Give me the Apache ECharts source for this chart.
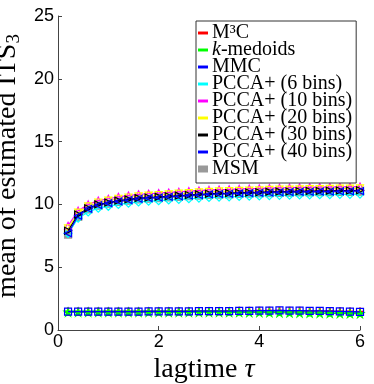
<!DOCTYPE html>
<html>
<head>
<meta charset="utf-8">
<script src="https://cdn.jsdelivr.net/npm/echarts@6/dist/echarts.min.js"></script>
<style>
  html, body { margin: 0; padding: 0; background: #fff; }
  #chart { width: 374px; height: 384px; }
</style>
</head>
<body>
<div id="chart"></div>
<script>
// lagtime values (0.2 .. 6.0)
var lagtimes = [0.2, 0.4, 0.6, 0.8, 1.0, 1.2, 1.4, 1.6, 1.8, 2.0,
  2.2, 2.4, 2.6, 2.8, 3.0, 3.2, 3.4, 3.6, 3.8, 4.0,
  4.2, 4.4, 4.6, 4.8, 5.0, 5.2, 5.4, 5.6, 5.8, 6.0];

// lower group
var m3c = [1.46, 1.46, 1.46, 1.46, 1.47, 1.47, 1.47, 1.47, 1.48, 1.48,
  1.48, 1.49, 1.49, 1.50, 1.50, 1.51, 1.51, 1.52, 1.52, 1.53,
  1.53, 1.53, 1.52, 1.52, 1.51, 1.50, 1.49, 1.48, 1.47, 1.46];
var kmedoids = [1.42, 1.42, 1.42, 1.42, 1.42, 1.42, 1.42, 1.42, 1.42, 1.42,
  1.42, 1.42, 1.42, 1.42, 1.42, 1.42, 1.41, 1.41, 1.40, 1.40,
  1.39, 1.38, 1.37, 1.36, 1.35, 1.34, 1.33, 1.32, 1.31, 1.30];
var mmc = [1.46, 1.46, 1.46, 1.46, 1.47, 1.47, 1.47, 1.47, 1.48, 1.48,
  1.48, 1.49, 1.49, 1.50, 1.50, 1.51, 1.51, 1.52, 1.53, 1.54,
  1.55, 1.56, 1.55, 1.54, 1.53, 1.52, 1.51, 1.49, 1.47, 1.45];

// upper group
var pcca6 = [7.7, 8.9, 9.4, 9.7, 9.85, 10.0, 10.1, 10.2, 10.25, 10.3,
  10.35, 10.4, 10.45, 10.5, 10.55, 10.58, 10.6, 10.63, 10.65, 10.67,
  10.7, 10.72, 10.73, 10.75, 10.76, 10.77, 10.78, 10.8, 10.8, 10.82];
var pcca10 = [8.3, 9.5, 10.0, 10.3, 10.45, 10.6, 10.7, 10.8, 10.85, 10.9,
  10.95, 11.0, 11.05, 11.1, 11.15, 11.18, 11.2, 11.23, 11.25, 11.27,
  11.3, 11.32, 11.33, 11.35, 11.36, 11.37, 11.38, 11.4, 11.4, 11.42];
var pcca20 = [8.1, 9.35, 9.85, 10.15, 10.3, 10.45, 10.55, 10.65, 10.7, 10.75,
  10.8, 10.85, 10.9, 10.95, 11.0, 11.03, 11.05, 11.08, 11.1, 11.12,
  11.15, 11.17, 11.18, 11.2, 11.21, 11.22, 11.23, 11.25, 11.25, 11.27];
var pcca30 = [7.9, 9.2, 9.7, 10.0, 10.15, 10.3, 10.4, 10.5, 10.55, 10.6,
  10.65, 10.7, 10.75, 10.8, 10.85, 10.88, 10.9, 10.93, 10.95, 10.97,
  11.0, 11.02, 11.03, 11.05, 11.06, 11.07, 11.08, 11.1, 11.1, 11.12];
var pcca40 = [7.7, 9.1, 9.65, 9.95, 10.1, 10.25, 10.35, 10.45, 10.5, 10.55,
  10.6, 10.65, 10.7, 10.75, 10.8, 10.83, 10.85, 10.88, 10.9, 10.92,
  10.95, 10.97, 10.98, 11.0, 11.01, 11.02, 11.03, 11.05, 11.05, 11.07];
var msm = [7.6, 9.0, 9.6, 9.9, 10.05, 10.2, 10.3, 10.4, 10.45, 10.5,
  10.55, 10.6, 10.65, 10.7, 10.75, 10.78, 10.8, 10.83, 10.85, 10.87,
  10.9, 10.92, 10.93, 10.95, 10.96, 10.97, 10.98, 11.0, 11.0, 11.02];

var names = ['M³C', 'k-medoids', 'MMC', 'PCCA+ (6 bins)', 'PCCA+ (10 bins)',
  'PCCA+ (20 bins)', 'PCCA+ (30 bins)', 'PCCA+ (40 bins)', 'MSM'];

// marker shapes
var P_AST = 'path://M4.4,0L5.6,0L5.6,4.4L10,4.4L10,5.6L5.6,5.6L5.6,10L4.4,10L4.4,5.6L0,5.6L0,4.4L4.4,4.4Z';
var P_STAR = 'path://M5,0L6.2,3.6L10,3.6L7,5.9L8.1,9.5L5,7.3L1.9,9.5L3,5.9L0,3.6L3.8,3.6Z';
var P_TDOWN = 'path://M0,0L10,0L5,9Z';
var P_TRIGHT = 'path://M0,0L9,5L0,10Z';
var P_TLEFT = 'path://M9,0L0,5L9,10Z';
var P_TUP = 'path://M5,0L10,9L0,9Z';
var P_DIAM = 'path://M5,0L10,5L5,10L0,5Z';
var P_SQ = 'path://M0,0L10,0L10,10L0,10Z';
var P_VBAR = 'path://M4.6,0L5.4,0L5.4,10L4.6,10Z';
// legend icons
var L_DASH = 'path://M0,4.4L10,4.4L10,5.6L0,5.6Z';
var L_HATCH = 'path://M0,2L0.8,2L0.8,8L0,8ZM3,2L3.8,2L3.8,8L3,8ZM6,2L6.8,2L6.8,8L6,8ZM9,2L9.8,2L9.8,8L9,8Z';

function mk(name, data, color, symbol, size, filled, z) {
  return {
    name: name,
    type: 'line',
    z: z,
    data: lagtimes.map(function (t, i) { return [t, data[i]]; }),
    symbol: symbol,
    symbolSize: size,
    showSymbol: true,
    lineStyle: { color: color, width: 1.2 },
    itemStyle: {
      color: filled ? color : 'rgba(0,0,0,0)',
      borderColor: color,
      borderWidth: 1.2
    },
    animation: false
  };
}

var chart = echarts.init(document.getElementById('chart'));
var serif = 'Liberation Serif';
var sans = 'Liberation Sans';

var option = {
  backgroundColor: '#fff',
  animation: false,
  grid: { left: 58, right: 14, top: 16, bottom: 54, outerBoundsMode: 'none' },
  legend: {
    orient: 'vertical',
    left: 196,
    top: 21,
    itemWidth: 8,
    itemHeight: 8,
    itemGap: -3,
    padding: [2, 4, 4, 2],
    borderColor: '#333',
    borderWidth: 1,
    backgroundColor: '#fff',
    data: names.map(function (n) {
      return { name: n, icon: n === 'MSM' ? L_HATCH : L_DASH };
    }),
    formatter: function (n) {
      if (n === 'k-medoids') return '{i|k}{n|-medoids}';
      return '{n|' + n + '}';
    },
    textStyle: {
      fontFamily: serif,
      fontSize: 20,
      color: '#000',
      lineHeight: 17,
      rich: {
        n: { fontFamily: serif, fontSize: 20, color: '#000', lineHeight: 17 },
        i: { fontFamily: serif, fontStyle: 'italic', fontSize: 20, color: '#000', lineHeight: 17 }
      }
    }
  },
  xAxis: {
    type: 'value',
    min: 0,
    max: 6,
    interval: 2,
    name: '{a|lagtime }{t|τ}',
    nameLocation: 'middle',
    nameGap: 19,
    nameTextStyle: {
      padding: [0, 10, 0, 0],
      rich: {
        a: { fontFamily: serif, fontSize: 28, color: '#000' },
        t: { fontFamily: serif, fontStyle: 'italic', fontSize: 28, color: '#000' }
      }
    },
    axisLine: { lineStyle: { color: '#444', width: 1 } },
    axisTick: { inside: true, length: 4, lineStyle: { color: '#444' } },
    axisLabel: { fontFamily: sans, fontSize: 18, color: '#000', margin: 3 },
    splitLine: { show: false }
  },
  yAxis: {
    type: 'value',
    min: 0,
    max: 25,
    interval: 5,
    name: '{a|mean of estimated ITS}{s|3}',
    nameLocation: 'middle',
    nameGap: 31,
    nameTextStyle: {
      padding: [0, 0, 0, 14],
      rich: {
        a: { fontFamily: serif, fontSize: 28, color: '#000' },
        s: { fontFamily: serif, fontSize: 19, color: '#000', padding: [12, 0, 0, 0] }
      }
    },
    axisLine: { show: true, lineStyle: { color: '#444', width: 1 } },
    axisTick: { show: true, inside: true, length: 4, lineStyle: { color: '#444' } },
    axisLabel: { fontFamily: sans, fontSize: 18, color: '#000', margin: 4 },
    splitLine: { show: false }
  },
  series: [
    mk(names[0], m3c, '#ff0000', P_AST, 7, true, 2),
    mk(names[1], kmedoids, '#00ff00', P_STAR, 8, true, 2),
    mk(names[2], mmc, '#0000ff', P_SQ, 7, false, 3),
    mk(names[3], pcca6, '#00ffff', P_DIAM, 8, false, 2),
    mk(names[4], pcca10, '#ff00ff', P_TUP, 7, false, 2),
    mk(names[5], pcca20, '#ffff00', P_TDOWN, 7, false, 2),
    mk(names[6], pcca30, '#000000', P_TRIGHT, 7, false, 3),
    mk(names[7], pcca40, '#0000ff', P_TLEFT, 7, false, 3),
    mk(names[8], msm, '#999999', P_VBAR, 7, true, 1)
  ]
};

chart.setOption(option);
</script>
</body>
</html>
